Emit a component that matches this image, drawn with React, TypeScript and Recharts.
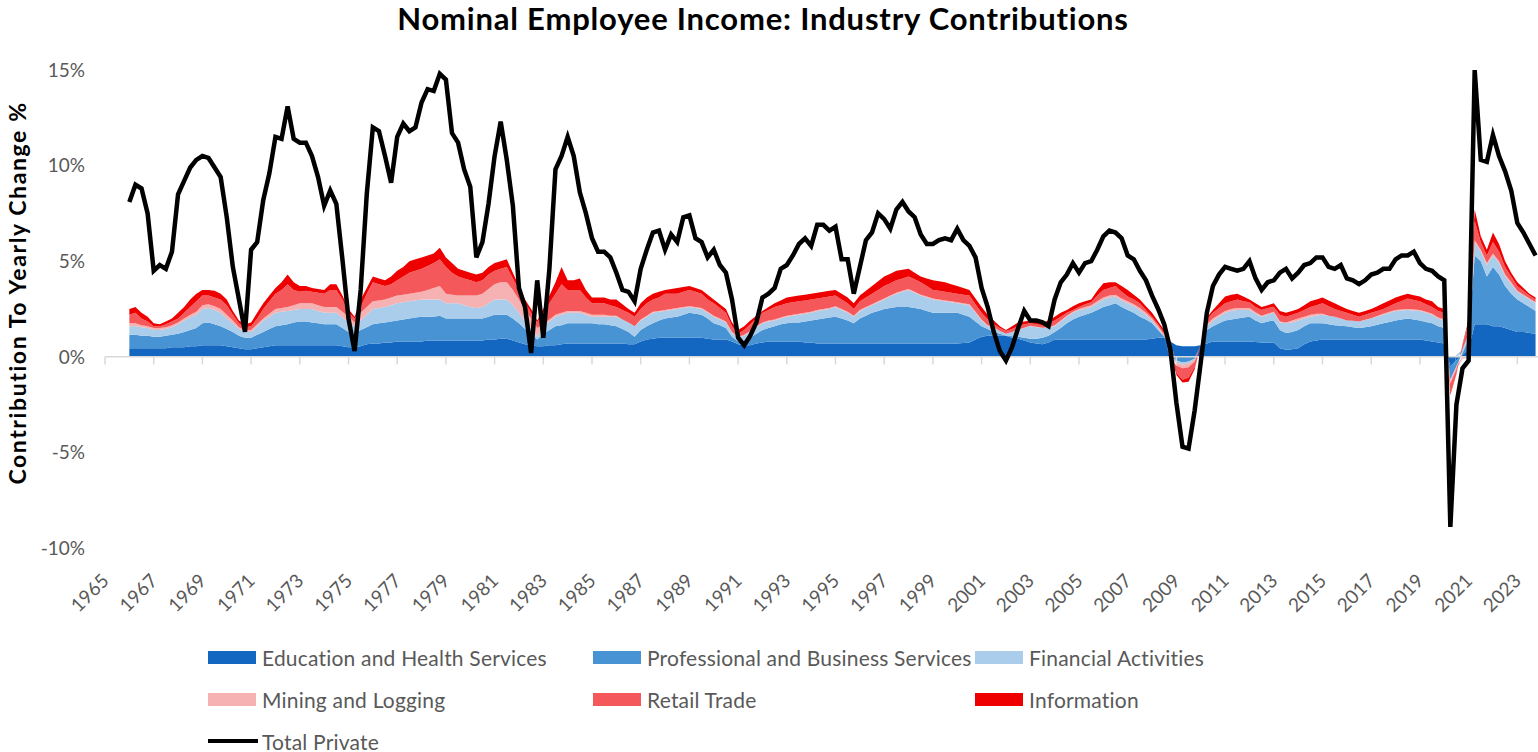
import React from 'react'
import { ComposedChart, Area, Line, XAxis, YAxis, ReferenceLine } from 'recharts'

// quarterly observations, first one is 1966 Q1
const startYear = 1966

const tickYears = [
  1965, 1967, 1969, 1971, 1973, 1975, 1977, 1979, 1981, 1983, 1985, 1987, 1989, 1991, 1993,
  1995, 1997, 1999, 2001, 2003, 2005, 2007, 2009, 2011, 2013, 2015, 2017, 2019, 2021, 2023,
]
const yTicks = [-10, -5, 0, 5, 10, 15]

const educHealth = [
  .45, .45, .45, .45, .45, .45, .45, .5, .5, .5, .55, .55, .6, .6, .6, .6,
  .55, .5, .45, .4, .4, .45, .5, .55, .6, .6, .6, .6, .6, .6, .6, .6,
  .6, .6, .6, .55, .5, .5, .55, .65, .7, .7, .75, .75, .8, .8, .8, .8,
  .8, .85, .85, .85, .85, .85, .85, .85, .85, .85, .85, .9, .9, .95, .95, .85,
  .75, .65, .6, .55, .55, .6, .6, .65, .7, .7, .7, .7, .7, .7, .7, .7,
  .7, .7, .65, .65, .8, .9, .95, 1.0, 1.0, 1.0, 1.0, 1.0, 1.0, 1.0, 1.0, .95,
  .9, .9, .9, .8, .65, .6, .6, .7, .75, .8, .8, .8, .8, .8, .8, .75,
  .75, .7, .7, .7, .7, .7, .7, .7, .7, .7, .7, .7, .7, .7, .7, .7,
  .7, .7, .7, .7, .7, .7, .7, .7, .7, .72, .75, .9, 1.05, 1.1, 1.1, 1.1,
  1.1, 1.0, .95, .85, .75, .7, .65, .75, .9, .9, .9, .9, .9, .9, .9, .9,
  .9, .9, .9, .9, .9, .9, .9, .9, .95, 1.0, 1.0, .8, .6, .55, .55, .55,
  .6, .7, .8, .8, .8, .8, .8, .8, .8, .78, .75, .75, .75, .45, .37, .4,
  .45, .65, .8, .85, .9, .9, .9, .9, .9, .9, .9, .9, .9, .9, .9, .9,
  .9, .9, .9, .9, .9, .85, .8, .75, .7, -.5, -.2, .1, .4, 1.7, 1.7, 1.7,
  1.6, 1.6, 1.5, 1.4, 1.3, 1.3, 1.25, 1.2,
]

const profBusiness = [
  .7, .7, .65, .65, .6, .6, .65, .65, .7, .8, .85, .95, 1.15, 1.2, 1.1, 1.0,
  .9, .8, .65, .6, .6, .7, .8, .9, 1.0, 1.05, 1.1, 1.2, 1.25, 1.25, 1.2, 1.15,
  1.1, 1.1, 1.1, .95, .8, .7, .85, .9, 1.0, 1.05, 1.05, 1.1, 1.1, 1.15, 1.2, 1.25,
  1.3, 1.25, 1.25, 1.3, 1.15, 1.15, 1.15, 1.15, 1.15, 1.15, 1.15, 1.2, 1.3, 1.25, 1.25, 1.15,
  1.0, .8, .6, .35, .65, .8, 1.0, 1.0, 1.05, 1.05, 1.05, 1.05, 1.05, 1.0, 1.0, .95,
  .9, .75, .65, .4, .6, .7, .8, .9, 1.0, 1.05, 1.1, 1.2, 1.3, 1.25, 1.2, 1.05,
  .85, .75, .6, .25, .15, .25, .4, .5, .65, .7, .8, .9, .95, 1.0, 1.0, 1.1,
  1.15, 1.25, 1.3, 1.35, 1.4, 1.3, 1.2, 1.05, 1.3, 1.45, 1.6, 1.7, 1.8, 1.85, 1.9, 1.9,
  1.9, 1.85, 1.8, 1.7, 1.6, 1.6, 1.6, 1.6, 1.6, 1.48, 1.35, .95, .55, .35, .2, .1,
  .02, .08, .1, .15, .2, .25, .35, .35, .4, .6, .85, 1.05, 1.2, 1.3, 1.4, 1.55,
  1.7, 1.8, 1.9, 1.7, 1.55, 1.4, 1.2, 1.05, .8, .4, .05, -.05, -.2, -.3, -.25, -.1,
  0, .7, .8, .95, 1.1, 1.15, 1.2, 1.25, 1.3, 1.12, 1.0, 1.1, 1.15, .95, .88, .9,
  .95, .95, .95, .9, .85, .8, .75, .72, .7, .65, .6, .65, .7, .78, .85, .92,
  1.0, 1.05, 1.1, 1.05, 1.0, .97, .95, .85, .8, -.7, -.3, .1, .5, 3.6, 3.3, 2.5,
  3.1, 2.7, 2.2, 1.9, 1.7, 1.5, 1.35, 1.2,
]

const financial = [
  .45, .45, .45, .4, .35, .35, .35, .4, .5, .6, .65, .7, .75, .75, .75, .7,
  .55, .45, .35, .3, .3, .45, .6, .65, .7, .7, .7, .65, .65, .65, .7, .65,
  .6, .6, .6, .55, .5, .4, .5, .65, .8, .8, .8, .85, .9, .9, .9, .9,
  .9, .9, .9, .85, .8, .8, .8, .7, .6, .55, .6, .7, .8, .8, .8, .7,
  .55, .4, .3, .15, .4, .45, .5, .55, .55, .55, .55, .45, .35, .4, .4, .45,
  .5, .5, .5, .55, .5, .5, .55, .45, .4, .4, .4, .35, .3, .3, .3, .3,
  .35, .3, .3, .2, .2, .25, .3, .35, .35, .35, .3, .3, .35, .35, .4, .4,
  .4, .45, .45, .45, .5, .45, .4, .35, .4, .4, .4, .45, .5, .6, .7, .8,
  .9, .8, .7, .7, .7, .65, .6, .55, .5, .55, .6, .45, .3, .15, .2, .15,
  .08, .22, .35, .5, .65, .6, .5, .4, .3, .35, .35, .35, .35, .3, .3, .35,
  .4, .4, .35, .35, .35, .35, .35, .25, .15, .1, 0, -.05, -.1, -.1, -.1, -.05,
  .02, .2, .3, .35, .4, .45, .45, .4, .35, .35, .35, .35, .4, .4, .5, .5,
  .5, .4, .35, .4, .45, .45, .45, .38, .3, .33, .35, .37, .4, .42, .45, .48,
  .5, .47, .45, .47, .5, .48, .45, .4, .4, -.05, .1, .2, .3, .7, .5, .6,
  .6, .6, .5, .5, .4, .4, .4, .4,
]

const miningLogging = [
  .15, .15, .1, .1, .1, .1, .1, .1, .1, .1, .15, .15, .2, .2, .2, .2,
  .2, .15, .1, .1, .1, .1, .1, .15, .2, .2, .2, .25, .3, .3, .3, .3,
  .3, .3, .3, .3, .3, .2, .4, .4, .4, .4, .4, .4, .4, .4, .4, .4,
  .4, .5, .6, .7, .5, .45, .4, .5, .6, .65, .7, .75, .8, .9, .9, .8,
  .7, .6, .5, .45, .1, .1, .1, .1, .1, .1, .1, .1, .1, .1, .1, .05,
  .05, 0, 0, 0, .05, .05, .05, .05, .05, .05, .05, .05, .05, .05, .05, .05,
  .05, .05, .05, .05, .05, .05, .05, .05, .05, .05, .05, .05, .05, .05, .05, .05,
  .05, .05, .05, .05, .05, .05, .05, .05, .05, .05, .05, .05, .05, .05, .05, .05,
  .05, .05, .05, .05, .05, .05, .05, .05, .05, .05, .05, .05, .05, .05, .05, 0,
  0, 0, .02, .02, .02, .02, .02, .05, .05, .05, .05, .05, .05, .1, .1, .1,
  .1, .1, .1, .1, .1, .1, .1, .1, .1, .1, .1, .05, -.15, -.2, -.2, -.1,
  .02, .1, .1, .1, .1, .1, .1, .1, .1, .08, .05, .05, .05, .05, .05, .1,
  .1, .1, .1, .1, .05, 0, 0, 0, 0, 0, 0, .02, .02, .04, .05, .05,
  .05, .06, .05, .05, .05, .05, .05, .05, .05, -.15, -.15, -.1, -.05, .1, .1, .1,
  .1, .1, .1, .1, .05, .05, .05, .05,
]

const retailTrade = [
  .45, .55, .35, .25, .1, .1, .15, .2, .2, .3, .4, .55, .5, .45, .45, .5,
  .5, .3, .2, .15, .2, .3, .5, .65, .8, .95, 1.2, .8, .6, .65, .6, .65,
  .7, .9, .9, .65, .2, .2, .3, .7, 1.0, .85, .7, .7, .8, .95, 1.1, 1.15,
  1.2, 1.25, 1.3, 1.4, 1.4, 1.15, 1.0, .9, .8, .7, .7, .75, .7, .7, .8, .6,
  .5, .35, .3, .3, .6, .85, 1.1, 1.5, 1.1, 1.1, 1.1, .8, .6, .6, .6, .55,
  .45, .5, .5, .5, .55, .65, .65, .7, .85, .8, .75, .8, .85, .8, .75, .65,
  .65, .55, .45, .3, .15, .25, .35, .4, .5, .55, .65, .65, .65, .65, .65, .65,
  .65, .6, .6, .6, .55, .5, .45, .35, .45, .5, .55, .6, .65, .65, .65, .65,
  .65, .65, .65, .55, .45, .45, .45, .45, .45, .45, .45, .4, .35, .3, .15, .15,
  .15, .15, .18, .18, .13, .13, .13, .2, .25, .2, .15, .1, .1, .15, .15, .3,
  .4, .4, .45, .35, .25, .25, .25, .15, .1, .1, .1, -.15, -.4, -.6, -.55, -.3,
  0, .25, .3, .35, .4, .4, .45, .35, .3, .27, .3, .3, .25, .35, .3, .3,
  .3, .35, .4, .45, .55, .5, .4, .4, .4, .32, .25, .26, .28, .26, .25, .3,
  .35, .44, .55, .5, .45, .4, .35, .35, .35, -.5, -.2, .2, .6, 1.0, .4, .4,
  .6, .5, .4, .3, .25, .2, .15, .15,
]

const information = [
  .3, .3, .3, .25, .15, .1, .15, .15, .3, .3, .4, .4, .3, .3, .35, .3,
  .3, .2, .15, .15, .2, .3, .3, .3, .3, .4, .5, .4, .3, .25, .2, .2,
  .2, .3, .3, .2, .2, .1, .4, .3, .3, .3, .3, .4, .5, .5, .6, .6,
  .6, .55, .5, .6, .5, .5, .4, .4, .4, .4, .4, .4, .4, .4, .4, .3,
  .2, .2, .2, .1, .2, .4, .6, .9, .5, .5, .6, .4, .3, .3, .3, .3,
  .4, .3, .2, .2, .3, .3, .3, .3, .2, .25, .3, .25, .2, .2, .2, .25,
  .2, .2, .2, .2, .2, .2, .2, .15, .1, .15, .2, .25, .3, .3, .3, .3,
  .3, .3, .3, .3, .3, .3, .3, .3, .3, .35, .4, .45, .5, .5, .5, .45,
  .4, .35, .3, .4, .5, .5, .5, .45, .4, .35, .3, .3, .3, .25, .2, .1,
  .05, .15, .2, .15, .15, .15, .15, .15, .2, .2, .15, .2, .2, .15, .15, .25,
  .35, .3, .2, .3, .35, .25, .2, .2, .2, .15, .15, 0, -.1, -.15, -.2, -.1,
  0, .1, .15, .25, .35, .35, .3, .25, .15, .2, .15, .15, .2, .2, .2, .2,
  .2, .25, .3, .3, .3, .3, .3, .25, .2, .2, .2, .2, .2, .25, .3, .3,
  .3, .28, .25, .25, .25, .25, .3, .2, .2, -.1, -.05, .05, .15, .6, .3, .3,
  .5, .4, .3, .2, .2, .15, .1, .1,
]

const totalPrivate = [
  8.1, 9.0, 8.8, 7.5, 4.5, 4.8, 4.6, 5.5, 8.5, 9.2, 9.9, 10.3, 10.5, 10.4, 9.9, 9.4,
  7.3, 4.7, 3.0, 1.3, 5.6, 6.0, 8.2, 9.6, 11.5, 11.4, 13.1, 11.4, 11.2, 11.2, 10.5, 9.4,
  7.9, 8.7, 8.0, 5.1, 2.0, 0.3, 3.5, 8.5, 12.0, 11.8, 10.5, 9.1, 11.5, 12.2, 11.8, 12.0,
  13.3, 14.0, 13.9, 14.8, 14.5, 11.7, 11.2, 9.8, 8.9, 5.2, 6.0, 8.0, 10.5, 12.3, 10.3, 7.9,
  3.6, 2.6, 0.2, 4.0, 1.0, 4.6, 9.8, 10.5, 11.5, 10.5, 8.6, 7.5, 6.2, 5.5, 5.5, 5.2,
  4.4, 3.5, 3.4, 2.9, 4.6, 5.6, 6.5, 6.6, 5.6, 6.4, 6.0, 7.3, 7.4, 6.2, 6.0, 5.2,
  5.6, 4.8, 4.4, 3.0, 1.0, 0.6, 1.1, 1.8, 3.1, 3.3, 3.6, 4.6, 4.8, 5.3, 5.9, 6.2,
  5.8, 6.9, 6.9, 6.6, 6.8, 5.1, 5.1, 3.3, 4.7, 6.1, 6.5, 7.5, 7.2, 6.7, 7.7, 8.1,
  7.6, 7.3, 6.4, 5.9, 5.9, 6.1, 6.2, 6.1, 6.7, 6.1, 5.8, 5.2, 3.6, 2.6, 1.3, 0.3,
  -0.2, 0.5, 1.5, 2.4, 1.9, 1.9, 1.8, 1.6, 3.0, 3.9, 4.3, 4.9, 4.4, 4.9, 5.0, 5.6,
  6.3, 6.6, 6.5, 6.2, 5.3, 5.1, 4.5, 4.0, 3.2, 2.5, 1.7, 0.4, -2.4, -4.7, -4.8, -2.8,
  -0.3, 2.3, 3.7, 4.3, 4.7, 4.6, 4.5, 4.6, 5.0, 4.1, 3.5, 3.9, 4.0, 4.4, 4.6, 4.1,
  4.4, 4.8, 4.9, 5.2, 5.2, 4.7, 4.6, 4.8, 4.1, 4.0, 3.8, 4.0, 4.3, 4.4, 4.6, 4.6,
  5.1, 5.3, 5.3, 5.5, 4.9, 4.6, 4.5, 4.2, 4.0, -8.9, -2.5, -0.6, -0.2, 15.0, 10.3, 10.2,
  11.6, 10.5, 9.7, 8.7, 7.0, 6.5, 5.9, 5.3,
]

const industries = [
  { key: 'educHealth', name: 'Education and Health Services', color: '#1467C1', values: educHealth },
  { key: 'profBusiness', name: 'Professional and Business Services', color: '#4793D4', values: profBusiness },
  { key: 'financial', name: 'Financial Activities', color: '#A9CDEB', values: financial },
  { key: 'miningLogging', name: 'Mining and Logging', color: '#F6B2B2', values: miningLogging },
  { key: 'retailTrade', name: 'Retail Trade', color: '#F5585A', values: retailTrade },
  { key: 'information', name: 'Information', color: '#EE0000', values: information },
]

const chartData = totalPrivate.map((v, i) => {
  const row: any = { t: startYear + i / 4, total: v }
  industries.forEach((s) => {
    row[s.key] = s.values[i]
  })
  return row
})

const FONT = 'Lato, Carlito, Calibri, "Open Sans", sans-serif'
const GREY = '#595959'

const YearTick = ({ x, y, payload }: any) => {
  const ax = x + 5
  const ay = y + 34
  return (
    <text
      x={ax}
      y={ay}
      transform={`rotate(-45, ${ax}, ${ay})`}
      textAnchor="end"
      fontSize={19}
      fill={GREY}
      fontFamily={FONT}
    >
      {payload.value}
    </text>
  )
}

const legendRows = [
  [industries[0], industries[1], industries[2]],
  [industries[3], industries[4], industries[5]],
]
const legendCols = [208, 593, 975]

const legendText = { fontSize: 21, letterSpacing: 0.2, color: GREY }

function ChartLegend() {
  return (
    <>
      {legendRows.map((row, r) =>
        row.map((item, c) => (
          <div
            key={item.key}
            style={{
              position: 'absolute',
              left: legendCols[c],
              top: 646 + r * 42,
              height: 22,
              display: 'flex',
              alignItems: 'center',
              whiteSpace: 'nowrap',
            }}
          >
            <div style={{ width: 48, height: 13, background: item.color }} />
            <span style={{ marginLeft: 6, ...legendText }}>{item.name}</span>
          </div>
        ))
      )}
      <div
        style={{
          position: 'absolute',
          left: legendCols[0],
          top: 730,
          height: 22,
          display: 'flex',
          alignItems: 'center',
          whiteSpace: 'nowrap',
        }}
      >
        <div style={{ width: 50, height: 4, background: '#000' }} />
        <span style={{ marginLeft: 4, ...legendText }}>Total Private</span>
      </div>
    </>
  )
}

export default function App() {
  return (
    <div
      style={{
        position: 'absolute',
        left: 0,
        top: 0,
        width: 1538,
        height: 752,
        background: '#fff',
        fontFamily: FONT,
        overflow: 'hidden',
      }}
    >
      <div
        style={{
          position: 'absolute',
          left: 0,
          top: -1,
          width: 1526,
          lineHeight: '38px',
          textAlign: 'center',
          fontSize: 31,
          letterSpacing: 0.8,
          fontWeight: 700,
          color: '#000',
        }}
      >
        Nominal Employee Income: Industry Contributions
      </div>
      <div
        style={{
          position: 'absolute',
          left: 17,
          top: 293,
          transform: 'translate(-50%, -50%) rotate(-90deg)',
          whiteSpace: 'nowrap',
          fontSize: 23,
          letterSpacing: 1.6,
          fontWeight: 700,
          color: '#000',
        }}
      >
        Contribution To Yearly Change %
      </div>
      <div style={{ position: 'absolute', left: 0, top: 0 }}>
        <ComposedChart
          width={1538}
          height={620}
          data={chartData}
          stackOffset="sign"
          margin={{ top: 70, right: 0, bottom: 0, left: 0 }}
        >
          <XAxis
            dataKey="t"
            type="number"
            domain={[1965, 2023.85]}
            ticks={tickYears}
            interval={0}
            allowDataOverflow
            axisLine={false}
            tickLine={false}
            tickSize={0}
            tickMargin={0}
            height={72}
            tick={<YearTick />}
          />
          <YAxis
            type="number"
            domain={[-10, 15]}
            ticks={yTicks}
            allowDataOverflow
            width={105}
            axisLine={false}
            tickLine={false}
            tickSize={0}
            tickMargin={20}
            tickFormatter={(v: number) => `${v}%`}
            tick={{ fontSize: 19, fill: GREY, fontFamily: FONT }}
          />
          {industries.map((s) => (
            <Area
              key={s.key}
              dataKey={s.key}
              name={s.name}
              stackId="ind"
              type="linear"
              fill={s.color}
              fillOpacity={1}
              stroke="none"
              dot={false}
              activeDot={false}
              isAnimationActive={false}
            />
          ))}
          <ReferenceLine y={0} stroke="#D9D9D9" strokeWidth={1.5} />
          {tickYears.map((yr) => (
            <ReferenceLine
              key={yr}
              segment={[
                { x: yr, y: 0 },
                { x: yr, y: -0.4 },
              ]}
              stroke="#D9D9D9"
              strokeWidth={1.5}
            />
          ))}
          <Line
            dataKey="total"
            name="Total Private"
            type="linear"
            stroke="#000"
            strokeWidth={4.5}
            dot={false}
            activeDot={false}
            isAnimationActive={false}
          />
        </ComposedChart>
      </div>
      <ChartLegend />
    </div>
  )
}
